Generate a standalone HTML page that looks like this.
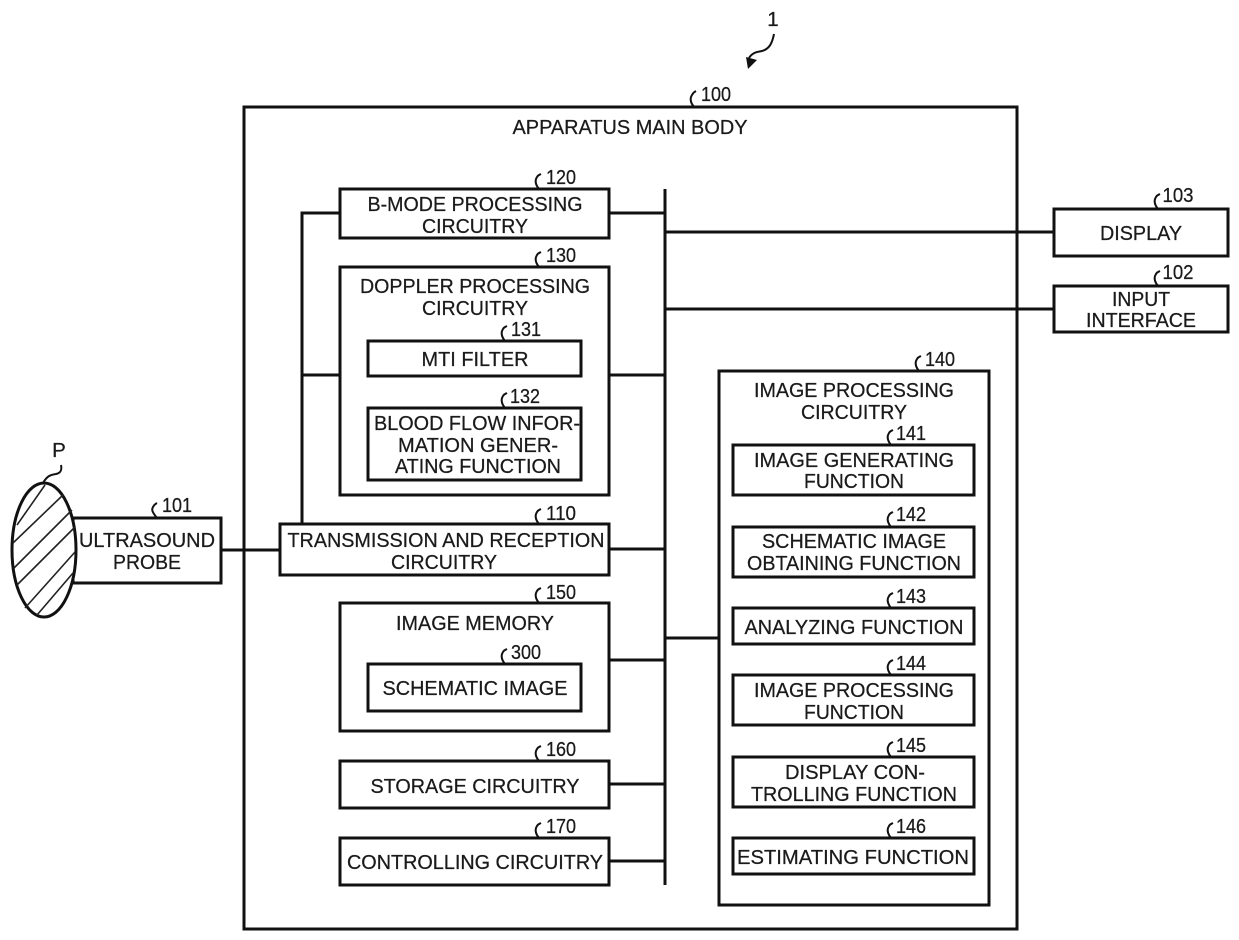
<!DOCTYPE html>
<html><head><meta charset="utf-8"><style>
html,body{margin:0;padding:0;background:#fff}
svg{display:block}
text{font-family:"Liberation Sans",sans-serif;font-size:20.5px;fill:#1a1a1a;stroke:#1a1a1a;stroke-width:.25;text-anchor:middle}
.b rect{fill:none;stroke:#111;stroke-width:3}
.l path{fill:none;stroke:#111;stroke-width:3}
.t path{fill:none;stroke:#111;stroke-width:2}
</style></head><body>
<svg width="1239" height="940" viewBox="0 0 1239 940" xmlns="http://www.w3.org/2000/svg">
<g class="l">
<path d="M665 189V885M609 213H665M665 232H1054M665 309H1054M609 375H665M609 549H665M609 660H665M609 784H665M609 861H665M665 638H719M221 550H280"/>
<path d="M340 213H302V524M302 375H340"/>
</g>
<g class="b">
<rect x="244" y="107" width="773" height="822"/>
<rect x="340" y="189" width="269" height="49"/>
<rect x="340" y="267" width="269" height="228"/>
<rect x="368" y="341" width="213" height="35"/>
<rect x="368" y="408" width="213" height="72"/>
<rect x="280" y="524" width="329" height="51"/>
<rect x="340" y="603" width="269" height="128"/>
<rect x="368" y="664" width="213" height="47"/>
<rect x="340" y="761" width="269" height="47"/>
<rect x="340" y="838" width="269" height="47"/>
<rect x="719" y="371" width="270" height="534"/>
<rect x="733" y="445" width="241" height="50"/>
<rect x="733" y="527" width="241" height="50"/>
<rect x="733" y="608" width="241" height="36"/>
<rect x="733" y="675" width="241" height="50"/>
<rect x="733" y="757" width="241" height="50"/>
<rect x="733" y="838" width="241" height="36"/>
<rect x="1054" y="209" width="174" height="47"/>
<rect x="1054" y="286" width="174" height="46"/>
<rect x="73" y="518" width="148" height="65"/>
</g>
<ellipse cx="44" cy="550" rx="32" ry="67" fill="#fff" stroke="#111" stroke-width="3"/>
<path d="M17 525L45 485M13 543L63 495M14 568L72 510M17 585L75 527M25 608L75 552M37 615L73 573" fill="none" stroke="#222" stroke-width="1.6"/>
<g class="t">
<path d="M43 483C47 476 50 475 56 474C61 473 62 470 61 465"/>
<path d="M157 518C153 513 151 510 153 507C154 505 155 504 157 503"/>
<path d="M694 107C690 102 690 98 692 95C693 93 694 92 696 91"/>
<path d="M539 189C535 184 535 180 537 177C538 175 539 175 541 174"/>
<path d="M539 267C535 262 535 258 537 255C538 253 539 253 541 252"/>
<path d="M505 341C501 336 501 332 503 329C504 327 505 327 507 326"/>
<path d="M505 408C501 403 501 399 503 396C504 394 505 394 507 393"/>
<path d="M539 524C535 519 535 515 537 512C538 510 539 510 541 509"/>
<path d="M539 603C535 598 535 594 537 591C538 589 539 589 541 588"/>
<path d="M505 664C501 659 501 655 503 652C504 650 505 650 507 649"/>
<path d="M539 761C535 756 535 752 537 749C538 747 539 747 541 746"/>
<path d="M539 838C535 833 535 829 537 826C538 824 539 824 541 823"/>
<path d="M919 371C915 366 915 362 917 359C918 357 919 357 921 356"/>
<path d="M891 445C887 440 887 436 889 433C890 431 891 431 893 430"/>
<path d="M891 527C887 522 887 518 889 515C890 513 891 513 893 512"/>
<path d="M891 608C887 603 887 599 889 596C890 594 891 594 893 593"/>
<path d="M891 675C887 670 887 666 889 663C890 661 891 661 893 660"/>
<path d="M891 757C887 752 887 748 889 745C890 743 891 743 893 742"/>
<path d="M891 838C887 833 887 829 889 826C890 824 891 824 893 823"/>
<path d="M1158 209C1154 204 1154 200 1156 197C1157 195 1158 195 1160 194"/>
<path d="M1158 286C1154 281 1154 277 1156 274C1157 272 1158 272 1160 271"/>
<path d="M774 34C772 44 769 49 762 51C756 52 752 53 749 58"/>
</g>
<path d="M748 69L746 57L757 60Z" fill="#111"/>
<text x="59" y="457" font-size="21">P</text>
<text x="773" y="26">1</text>
<text x="716" y="101" textLength="30" lengthAdjust="spacingAndGlyphs">100</text>
<text x="177" y="512" textLength="30" lengthAdjust="spacingAndGlyphs">101</text>
<text x="1178" y="202" textLength="31" lengthAdjust="spacingAndGlyphs">103</text>
<text x="1178" y="279" textLength="31" lengthAdjust="spacingAndGlyphs">102</text>
<text x="561" y="184" textLength="30" lengthAdjust="spacingAndGlyphs">120</text>
<text x="561" y="262" textLength="30" lengthAdjust="spacingAndGlyphs">130</text>
<text x="526" y="336" textLength="30" lengthAdjust="spacingAndGlyphs">131</text>
<text x="525" y="403" textLength="30" lengthAdjust="spacingAndGlyphs">132</text>
<text x="561" y="520" textLength="30" lengthAdjust="spacingAndGlyphs">110</text>
<text x="561" y="599" textLength="30" lengthAdjust="spacingAndGlyphs">150</text>
<text x="526" y="659" textLength="30" lengthAdjust="spacingAndGlyphs">300</text>
<text x="561" y="756" textLength="30" lengthAdjust="spacingAndGlyphs">160</text>
<text x="561" y="833" textLength="30" lengthAdjust="spacingAndGlyphs">170</text>
<text x="940" y="366" textLength="30" lengthAdjust="spacingAndGlyphs">140</text>
<text x="911" y="440" textLength="30" lengthAdjust="spacingAndGlyphs">141</text>
<text x="911" y="521" textLength="30" lengthAdjust="spacingAndGlyphs">142</text>
<text x="911" y="603" textLength="30" lengthAdjust="spacingAndGlyphs">143</text>
<text x="911" y="670" textLength="30" lengthAdjust="spacingAndGlyphs">144</text>
<text x="911" y="752" textLength="30" lengthAdjust="spacingAndGlyphs">145</text>
<text x="911" y="833" textLength="30" lengthAdjust="spacingAndGlyphs">146</text>

<text x="630" y="134" textLength="235" lengthAdjust="spacingAndGlyphs">APPARATUS MAIN BODY</text>
<text x="475" y="211" textLength="215" lengthAdjust="spacingAndGlyphs">B-MODE PROCESSING</text>
<text x="475" y="233" textLength="106" lengthAdjust="spacingAndGlyphs">CIRCUITRY</text>
<text x="475" y="293" textLength="230" lengthAdjust="spacingAndGlyphs">DOPPLER PROCESSING</text>
<text x="475" y="315" textLength="106" lengthAdjust="spacingAndGlyphs">CIRCUITRY</text>
<text x="475" y="366" textLength="107" lengthAdjust="spacingAndGlyphs">MTI FILTER</text>
<text x="477" y="430" textLength="206" lengthAdjust="spacingAndGlyphs">BLOOD FLOW INFOR-</text>
<text x="478" y="452" textLength="160" lengthAdjust="spacingAndGlyphs">MATION GENER-</text>
<text x="478" y="473" textLength="166" lengthAdjust="spacingAndGlyphs">ATING FUNCTION</text>
<text x="446" y="547" textLength="317" lengthAdjust="spacingAndGlyphs">TRANSMISSION AND RECEPTION</text>
<text x="444" y="569" textLength="106" lengthAdjust="spacingAndGlyphs">CIRCUITRY</text>
<text x="147" y="547" textLength="136" lengthAdjust="spacingAndGlyphs">ULTRASOUND</text>
<text x="147" y="569" textLength="68" lengthAdjust="spacingAndGlyphs">PROBE</text>
<text x="475" y="630" textLength="158" lengthAdjust="spacingAndGlyphs">IMAGE MEMORY</text>
<text x="475" y="695" textLength="185" lengthAdjust="spacingAndGlyphs">SCHEMATIC IMAGE</text>
<text x="475" y="793" textLength="209" lengthAdjust="spacingAndGlyphs">STORAGE CIRCUITRY</text>
<text x="475" y="869" textLength="256" lengthAdjust="spacingAndGlyphs">CONTROLLING CIRCUITRY</text>
<text x="854" y="397" textLength="200" lengthAdjust="spacingAndGlyphs">IMAGE PROCESSING</text>
<text x="854" y="419" textLength="106" lengthAdjust="spacingAndGlyphs">CIRCUITRY</text>
<text x="854" y="467" textLength="200" lengthAdjust="spacingAndGlyphs">IMAGE GENERATING</text>
<text x="854" y="488" textLength="100" lengthAdjust="spacingAndGlyphs">FUNCTION</text>
<text x="854" y="548" textLength="184" lengthAdjust="spacingAndGlyphs">SCHEMATIC IMAGE</text>
<text x="854" y="570" textLength="214" lengthAdjust="spacingAndGlyphs">OBTAINING FUNCTION</text>
<text x="854" y="634" textLength="219" lengthAdjust="spacingAndGlyphs">ANALYZING FUNCTION</text>
<text x="854" y="697" textLength="200" lengthAdjust="spacingAndGlyphs">IMAGE PROCESSING</text>
<text x="854" y="719" textLength="100" lengthAdjust="spacingAndGlyphs">FUNCTION</text>
<text x="855" y="779" textLength="140" lengthAdjust="spacingAndGlyphs">DISPLAY CON-</text>
<text x="854" y="801" textLength="206" lengthAdjust="spacingAndGlyphs">TROLLING FUNCTION</text>
<text x="853" y="864" textLength="232" lengthAdjust="spacingAndGlyphs">ESTIMATING FUNCTION</text>
<text x="1141" y="240" textLength="82" lengthAdjust="spacingAndGlyphs">DISPLAY</text>
<text x="1141" y="306" textLength="58" lengthAdjust="spacingAndGlyphs">INPUT</text>
<text x="1141" y="327" textLength="110" lengthAdjust="spacingAndGlyphs">INTERFACE</text>
</svg>
</body></html>
